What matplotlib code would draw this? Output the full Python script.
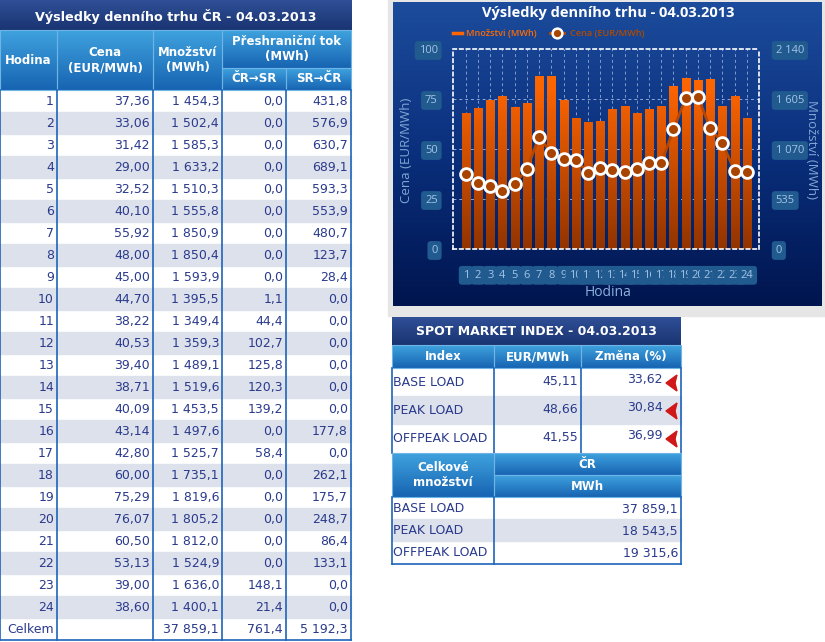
import numpy as np
import matplotlib
matplotlib.use("Agg")
import matplotlib.pyplot as plt
from matplotlib.colors import LinearSegmentedColormap
from matplotlib.patches import Rectangle, Polygon
from matplotlib.lines import Line2D

# ---- data ----
hours = list(range(1, 25))
price = [37.36, 33.06, 31.42, 29.00, 32.52, 40.10, 55.92, 48.00, 45.00, 44.70, 38.22, 40.53,
         39.40, 38.71, 40.09, 43.14, 42.80, 60.00, 75.29, 76.07, 60.50, 53.13, 39.00, 38.60]
qty = [1454.3, 1502.4, 1585.3, 1633.2, 1510.3, 1555.8, 1850.9, 1850.4, 1593.9, 1395.5, 1349.4, 1359.3,
       1489.1, 1519.6, 1453.5, 1497.6, 1525.7, 1735.1, 1819.6, 1805.2, 1812.0, 1524.9, 1636.0, 1400.1]
cr_sr = [0.0, 0.0, 0.0, 0.0, 0.0, 0.0, 0.0, 0.0, 0.0, 1.1, 44.4, 102.7,
         125.8, 120.3, 139.2, 0.0, 58.4, 0.0, 0.0, 0.0, 0.0, 0.0, 148.1, 21.4]
sr_cr = [431.8, 576.9, 630.7, 689.1, 593.3, 553.9, 480.7, 123.7, 28.4, 0.0, 0.0, 0.0,
         0.0, 0.0, 0.0, 177.8, 0.0, 262.1, 175.7, 248.7, 86.4, 133.1, 0.0, 0.0]
totals = [37859.1, 761.4, 5192.3]

index_names = ["BASE LOAD", "PEAK LOAD", "OFFPEAK LOAD"]
index_price = [45.11, 48.66, 41.55]
index_change = [33.62, 30.84, 36.99]
index_volume = [37859.1, 18543.5, 19315.6]

price_ticks = [0, 25, 50, 75, 100]
qty_ticks = [0, 535, 1070, 1605, 2140]

W, H = 825, 642
NAVY_T, NAVY_B = '#2f4f96', '#1a3472'
HEAD_T, HEAD_B = '#3fa2de', '#1764b2'
TXT = '#2a3a8c'
LINE = '#1e64b8'
STRIPE = '#dde1ec'
TFONT = 'DejaVu Sans'
CFONT = 'Open Sans'


def fmt(v, d=1):
    return f"{v:,.{d}f}".replace(",", " ").replace(".", ",")


def grad(ax, x0, y0, x1, y1, top, bot, z=1):
    cmap = LinearSegmentedColormap.from_list("g", [top, bot])
    ax.imshow(np.linspace(0, 1, 64)[:, None], cmap=cmap, extent=(x0, x1, y1, y0),
              aspect='auto', origin='upper', interpolation='bilinear', zorder=z)


def head_cell(ax, x0, y0, x1, y1, text):
    grad(ax, x0, y0, x1, y1, HEAD_T, HEAD_B)
    ax.add_patch(Rectangle((x0, y0), x1 - x0, y1 - y0, fill=False, ec='#6fb4e6', lw=0.8, zorder=2))
    ax.text((x0 + x1) / 2, (y0 + y1) / 2, text, color='white', fontsize=8.5, fontweight='bold',
            ha='center', va='center', linespacing=1.25, family=TFONT, zorder=3)


def px_axes(x0, y0, x1, y1):
    return fig.add_axes([x0 / W, 1 - y1 / H, (x1 - x0) / W, (y1 - y0) / H])


def ftext(x, y, s, **kw):
    fig.text(x / W, 1 - y / H, s, **kw)


fig = plt.figure(figsize=(W / 100, H / 100), dpi=100)
base = fig.add_axes([0, 0, 1, 1])
base.axis('off')

# gray frame behind the chart
base.add_patch(Rectangle((388, 0), W - 388, 316, color='#e6e6e6', zorder=0))

# ---- left table ----
grad(base, 0, 0, 352, 30, NAVY_T, NAVY_B)
base.text(176, 16, "Výsledky denního trhu ČR - 04.03.2013", color='white', fontsize=9.2,
          fontweight='bold', ha='center', va='center', family=TFONT, zorder=3)

cols = [0, 57, 153, 222, 286, 351]
head_cell(base, 0, 30, 57, 90, "Hodina")
head_cell(base, 57, 30, 153, 90, "Cena\n(EUR/MWh)")
head_cell(base, 153, 30, 222, 90, "Množství\n(MWh)")
head_cell(base, 222, 30, 351, 68, "Přeshraniční tok\n(MWh)")
head_cell(base, 222, 68, 286, 90, "ČR→SR")
head_cell(base, 286, 68, 351, 90, "SR→ČR")

rows = [[str(h), fmt(p, 2), fmt(q), fmt(a), fmt(b)]
        for h, p, q, a, b in zip(hours, price, qty, cr_sr, sr_cr)]
rows.append(["Celkem", "", fmt(totals[0]), fmt(totals[1]), fmt(totals[2])])
for i, row in enumerate(rows):
    y0 = 90 + 22 * i
    if i % 2 == 1:
        base.add_patch(Rectangle((0, y0), 351, 22, color=STRIPE, zorder=1))
    for j, s in enumerate(row):
        base.text(cols[j + 1] - 3, y0 + 11.5, s, color=TXT, fontsize=9, ha='right', va='center',
                  family=TFONT, zorder=3)
for x in cols:
    base.plot([x, x], [90, 640], color=LINE, lw=1.2, zorder=2)
base.plot([0, 351], [640, 640], color=LINE, lw=1.2, zorder=2)

# ---- spot market index table ----
grad(base, 392, 317, 681, 345, NAVY_T, NAVY_B)
base.text(536, 331.5, "SPOT MARKET INDEX - 04.03.2013", color='white', fontsize=9,
          fontweight='bold', ha='center', va='center', family=TFONT, zorder=3)
head_cell(base, 392, 345, 494, 368, "Index")
head_cell(base, 494, 345, 581, 368, "EUR/MWh")
head_cell(base, 581, 345, 681, 368, "Změna (%)")
for i, (n, p, c) in enumerate(zip(index_names, index_price, index_change)):
    y0 = 368 + 28 * i
    if i % 2 == 1:
        base.add_patch(Rectangle((392, y0), 289, 28, color=STRIPE, zorder=1))
    yc = y0 + 14
    base.text(393, yc, n, color=TXT, fontsize=9, ha='left', va='center', family=TFONT, zorder=3)
    base.text(578, yc, fmt(p, 2), color=TXT, fontsize=9, ha='right', va='center', family=TFONT, zorder=3)
    base.text(663, yc - 2, fmt(c, 2), color=TXT, fontsize=9, ha='right', va='center', family=TFONT, zorder=3)
    base.add_patch(Polygon([(666, yc + 1), (677, yc - 7), (675, yc + 1), (677, yc + 9)],
                           closed=True, color='#d01818', zorder=3))
for x in [392, 494, 581, 681]:
    base.plot([x, x], [368, 453], color=LINE, lw=1.2, zorder=2)

head_cell(base, 392, 453, 494, 497, "Celkové\nmnožství")
head_cell(base, 494, 453, 681, 475, "ČR")
head_cell(base, 494, 475, 681, 497, "MWh")
for i, (n, v) in enumerate(zip(index_names, index_volume)):
    y0 = 497 + 22 * i
    if i % 2 == 1:
        base.add_patch(Rectangle((392, y0), 289, 22, color=STRIPE, zorder=1))
    base.text(393, y0 + 12, n, color=TXT, fontsize=9, ha='left', va='center', family=TFONT, zorder=3)
    base.text(678, y0 + 12, fmt(v), color=TXT, fontsize=9, ha='right', va='center', family=TFONT, zorder=3)
for x in [392, 494, 681]:
    base.plot([x, x], [497, 564], color=LINE, lw=1.2, zorder=2)
base.plot([392, 681], [564, 564], color=LINE, lw=1.2, zorder=2)

base.set_xlim(0, W)
base.set_ylim(H, 0)

# ---- chart ----
bg = px_axes(393, 2, 822, 306)
bg_cmap = LinearSegmentedColormap.from_list("bg", ['#1c4c9c', '#0a2f7c', '#00154f'])
bg.imshow(np.linspace(0, 1, 128)[:, None], cmap=bg_cmap, aspect='auto',
          extent=(0, 1, 0, 1), interpolation='bilinear')
bg.axis('off')

ax = px_axes(453, 49, 759, 249)
ax2 = ax.twinx()
ax.set_zorder(ax2.get_zorder() + 1)
ax.patch.set_visible(False)
ax2.patch.set_visible(False)

bar_cmap = LinearSegmentedColormap.from_list("bar", [(0, '#923400'), (0.8, '#fb6400'), (1, '#ff7000')])
bw = 0.33
for h, q in zip(hours, qty):
    ax2.imshow(np.linspace(q / 2140, 0, 100)[:, None], cmap=bar_cmap, vmin=0, vmax=1,
               extent=(h - bw, h + bw, 0, q), aspect='auto', origin='upper', zorder=2)
for h in hours:
    ax2.axvline(h, color='#7f9ccc', lw=0.7, ls=(0, (3, 3)), zorder=1)
for v in [535, 1070, 1605]:
    ax2.axhline(v, color='#8fa8d4', lw=0.7, ls=(0, (3, 3)), zorder=1)

ax.plot(hours, price, color='#b84800', lw=2, marker='o', ms=8.5, mfc='#a84300',
        mec='white', mew=2, zorder=3)

ax.set_xlim(-0.05, 25.0)
ax.set_ylim(0, 100)
ax2.set_ylim(0, 2140)
ax.set_xticks(hours)
ax.set_xticklabels([str(h) for h in hours])
ax.set_yticks(price_ticks)
ax.set_yticklabels([str(v) for v in price_ticks])
ax2.set_yticks(qty_ticks)
ax2.set_yticklabels([fmt(v, 0) for v in qty_ticks])

tick_col = '#a4c4e8'
box = dict(boxstyle='round,pad=0.35,rounding_size=0.3', fc='#215a8f', ec='none')
ax.tick_params(axis='x', length=0, pad=15, labelsize=8, labelcolor=tick_col)
ax.tick_params(axis='y', length=0, pad=11, labelsize=8, labelcolor=tick_col)
ax2.tick_params(axis='y', length=0, pad=12, labelsize=8, labelcolor=tick_col)
for lbl in ax.get_xticklabels() + ax.get_yticklabels() + ax2.get_yticklabels():
    lbl.set_family(CFONT)
    lbl.set_bbox(box)

for sp in ax.spines.values():
    sp.set_color('white')
    sp.set_linestyle((0, (2, 2)))
    sp.set_linewidth(1.2)
for sp in ax2.spines.values():
    sp.set_visible(False)

ftext(608, 13, "Výsledky denního trhu - 04.03.2013", color='white', fontsize=10.5,
      fontweight='bold', ha='center', va='center', family=CFONT)
ftext(608, 292, "Hodina", color='#8cb0dc', fontsize=10, ha='center', va='center', family=CFONT)
ftext(406, 150, "Cena (EUR/MWh)", color='#7fa6d4', fontsize=9.5, rotation=90,
      ha='center', va='center', family=CFONT)
ftext(812, 150, "Množství (MWh)", color='#7fa6d4', fontsize=9.5, rotation=270,
      ha='center', va='center', family=CFONT)

# legend
y_leg = 1 - 33 / H
fig.add_artist(Line2D([453 / W, 462 / W], [y_leg, y_leg], color='#ff6600', lw=2.5))
ftext(466, 33, "Množstvi (MWh)", color='#ff6a00', fontsize=6.6, fontweight='semibold',
      ha='left', va='center', family=CFONT)
fig.add_artist(Line2D([550 / W, 564 / W], [y_leg, y_leg], color='#b84800', lw=2))
fig.add_artist(Line2D([557 / W], [y_leg], marker='o', ms=7, mfc='#a84300', mec='white', mew=1.8))
ftext(570, 33, "Cena (EUR/MWh)", color='#b04a00', fontsize=6.6, fontweight='semibold',
      ha='left', va='center', family=CFONT)

fig.savefig("out.png", dpi=100)
